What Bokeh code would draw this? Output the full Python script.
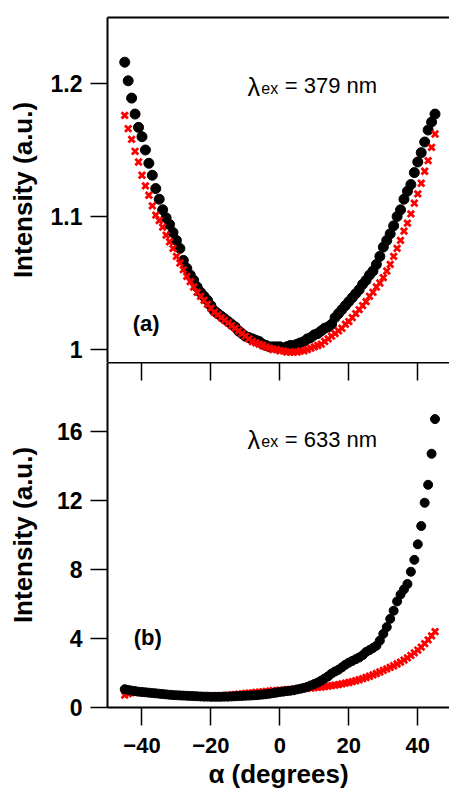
from bokeh.plotting import figure
from bokeh.models import Range1d, FixedTicker, LinearAxis, Label
from bokeh.layouts import column
from bokeh.embed import file_html
from bokeh.resources import INLINE

# ---------------- data ----------------
angles = [-45, -44, -43, -42, -41, -40, -39, -38, -37, -36,
          -35, -34, -33, -32, -31, -30, -29, -28, -27, -26,
          -25, -24, -23, -22, -21, -20, -19, -18, -17, -16,
          -15, -14, -13, -12, -11, -10, -9, -8, -7, -6,
          -5, -4, -3, -2, -1, 0, 1, 2, 3, 4,
          5, 6, 7, 8, 9, 10, 11, 12, 13, 14,
          15, 16, 17, 18, 19, 20, 21, 22, 23, 24,
          25, 26, 27, 28, 29, 30, 31, 32, 33, 34,
          35, 36, 37, 38, 39, 40, 41, 42, 43, 44, 45]

# lambda_ex = 379 nm (panel a)
i379_black = [1.216, 1.202, 1.189, 1.177, 1.167, 1.160, 1.150, 1.140, 1.131, 1.121,
              1.113, 1.105, 1.099, 1.094, 1.088, 1.082, 1.076, 1.067, 1.061, 1.056,
              1.052, 1.047, 1.043, 1.040, 1.037, 1.033, 1.029, 1.027, 1.025, 1.023,
              1.021, 1.019, 1.017, 1.014, 1.012, 1.010, 1.009, 1.008, 1.007, 1.006,
              1.004, 1.003, 1.002, 1.002, 1.002, 1.002, 1.001, 1.002, 1.003, 1.003,
              1.004, 1.005, 1.006, 1.008, 1.009, 1.011, 1.012, 1.014, 1.016, 1.017,
              1.019, 1.024, 1.027, 1.030, 1.033, 1.036, 1.039, 1.042, 1.045, 1.049,
              1.052, 1.056, 1.059, 1.064, 1.070, 1.077, 1.082, 1.087, 1.093, 1.100,
              1.105, 1.113, 1.119, 1.124, 1.133, 1.141, 1.148, 1.156, 1.165, 1.171, 1.177]
i379_red = [1.176, 1.166, 1.158, 1.149, 1.141, 1.131, 1.123, 1.116, 1.108, 1.101,
            1.097, 1.092, 1.086, 1.081, 1.076, 1.070, 1.065, 1.060, 1.055, 1.051,
            1.047, 1.043, 1.040, 1.037, 1.034, 1.031, 1.028, 1.026, 1.024, 1.022,
            1.020, 1.018, 1.016, 1.014, 1.012, 1.010, 1.008, 1.006, 1.005, 1.004,
            1.003, 1.002, 1.001, 1.000, 1.000, 0.999, 0.999, 0.998, 0.998, 0.998,
            0.998, 0.999, 0.999, 1.000, 1.001, 1.002, 1.003, 1.004, 1.006, 1.008,
            1.010, 1.012, 1.014, 1.016, 1.019, 1.021, 1.024, 1.027, 1.030, 1.033,
            1.036, 1.040, 1.043, 1.047, 1.050, 1.054, 1.059, 1.064, 1.070, 1.076,
            1.082, 1.089, 1.095, 1.102, 1.110, 1.117, 1.125, 1.134, 1.142, 1.152, 1.162]

# lambda_ex = 633 nm (panel b)
i633_black = [1.06, 1.02, 0.98, 0.95, 0.92, 0.90, 0.88, 0.86, 0.84, 0.82,
              0.80, 0.78, 0.76, 0.74, 0.72, 0.71, 0.70, 0.69, 0.68, 0.67,
              0.66, 0.65, 0.64, 0.63, 0.63, 0.62, 0.62, 0.62, 0.62, 0.63,
              0.63, 0.64, 0.65, 0.66, 0.67, 0.68, 0.69, 0.70, 0.71, 0.73,
              0.75, 0.77, 0.80, 0.83, 0.86, 0.90, 0.92, 0.95, 0.97, 1.00,
              1.05, 1.09, 1.14, 1.20, 1.28, 1.36, 1.45, 1.56, 1.68, 1.81,
              1.97, 2.09, 2.19, 2.33, 2.48, 2.60, 2.70, 2.80, 2.90, 3.03,
              3.22, 3.33, 3.45, 3.58, 3.88, 4.27, 4.66, 5.14, 5.61, 6.15,
              6.55, 6.85, 7.16, 7.87, 8.56, 9.46, 10.52, 11.87, 12.91, 14.71, 16.72]
i633_red = [0.72, 0.80, 0.86, 0.88, 0.88, 0.87, 0.86, 0.84, 0.82, 0.80,
            0.78, 0.77, 0.75, 0.74, 0.72, 0.71, 0.70, 0.69, 0.68, 0.67,
            0.66, 0.66, 0.65, 0.65, 0.65, 0.65, 0.66, 0.67, 0.68, 0.69,
            0.71, 0.73, 0.75, 0.77, 0.79, 0.81, 0.83, 0.85, 0.87, 0.89,
            0.91, 0.93, 0.95, 0.97, 0.98, 1.00, 1.01, 1.03, 1.04, 1.06,
            1.07, 1.09, 1.10, 1.12, 1.13, 1.15, 1.17, 1.19, 1.21, 1.24,
            1.27, 1.30, 1.33, 1.37, 1.41, 1.45, 1.50, 1.55, 1.61, 1.67,
            1.74, 1.81, 1.89, 1.97, 2.06, 2.15, 2.24, 2.33, 2.42, 2.52,
            2.63, 2.75, 2.88, 3.02, 3.17, 3.33, 3.50, 3.70, 3.92, 4.15, 4.40]

x_ticks = [-40, -20, 0, 20, 40]
y_ticks_a = [1, 1.1, 1.2]
y_labels_a = ["1", "1.1", "1.2"]
y_ticks_b = [0, 4, 8, 12, 16]

FONT = "Liberation Sans"
RED = "#ff0000"

x_range = Range1d(-50, 49.2)


def style_left(ax, ticks, labels, standoff):
    ax.ticker = FixedTicker(ticks=ticks)
    ax.major_label_overrides = {t: l for t, l in zip(ticks, labels)}
    ax.major_label_text_font = FONT
    ax.major_label_text_font_style = "bold"
    ax.major_label_text_font_size = "23px"
    ax.major_label_text_color = "black"
    ax.major_label_standoff = 8
    ax.major_tick_out = 17
    ax.major_tick_in = 0
    ax.major_tick_line_width = 1.5
    ax.major_tick_line_color = "black"
    ax.minor_tick_line_color = None
    ax.axis_line_width = 2
    ax.axis_line_color = "black"
    ax.axis_label = "Intensity (a.u.)"
    ax.axis_label_text_font = FONT
    ax.axis_label_text_font_style = "bold"
    ax.axis_label_text_font_size = "26px"
    ax.axis_label_text_color = "black"
    ax.axis_label_standoff = standoff


# ---------------- panel (a) ----------------
p1 = figure(width=449, height=362, x_range=x_range, y_range=Range1d(0.99023, 1.2496),
            output_backend="svg", toolbar_location=None, x_axis_location=None,
            min_border_left=107, min_border_right=0, min_border_top=17, min_border_bottom=0)
p1.grid.visible = False
p1.outline_line_color = None
p1.background_fill_color = "white"
p1.border_fill_color = "white"
style_left(p1.yaxis[0], y_ticks_a, y_labels_a, 10)

top_line = LinearAxis(ticker=FixedTicker(ticks=[]), major_label_text_font_size="0px",
                      major_tick_line_color=None, minor_tick_line_color=None,
                      axis_line_width=2, axis_line_color="black", major_label_standoff=0)
p1.add_layout(top_line, "above")

p1.scatter(angles, i379_black, marker="circle", size=10, fill_color="black", line_color="black")
p1.scatter(angles, i379_red, marker="x", size=9, line_color=RED, line_width=2.8)

p1.add_layout(Label(x=-9.4, y=1.1977, text="λ", text_font=FONT, text_font_size="25px",
                    text_color="black", text_baseline="alphabetic"))
p1.add_layout(Label(x=-5.4, y=1.1962, text="ex", text_font=FONT, text_font_size="16px",
                    text_color="black", text_baseline="alphabetic"))
p1.add_layout(Label(x=1.4, y=1.1985, text="= 379 nm", text_font=FONT, text_font_size="22px",
                    text_color="black", text_baseline="alphabetic"))
p1.add_layout(Label(x=-42.7, y=1.0195, text="(a)", text_font=FONT, text_font_size="22px",
                    text_font_style="bold", text_color="black", text_baseline="alphabetic"))

# ---------------- panel (b) ----------------
p2 = figure(width=449, height=429, x_range=x_range, y_range=Range1d(0, 20),
            output_backend="svg", toolbar_location=None,
            min_border_left=107, min_border_right=0, min_border_top=0, min_border_bottom=82)
p2.grid.visible = False
p2.outline_line_color = None
p2.background_fill_color = "white"
p2.border_fill_color = "white"
style_left(p2.yaxis[0], y_ticks_b, [str(t) for t in y_ticks_b], 16)

xa = p2.xaxis[0]
xa.ticker = FixedTicker(ticks=x_ticks)
xa.major_label_text_font = FONT
xa.major_label_text_font_style = "bold"
xa.major_label_text_font_size = "22px"
xa.major_label_text_color = "black"
xa.major_label_standoff = 12
xa.major_tick_out = 18
xa.major_tick_in = 0
xa.major_tick_line_width = 1.5
xa.major_tick_line_color = "black"
xa.minor_tick_line_color = None
xa.axis_line_width = 2
xa.axis_line_color = "black"
xa.axis_label = "α (degrees)"
xa.axis_label_text_font = FONT
xa.axis_label_text_font_style = "bold"
xa.axis_label_text_font_size = "26px"
xa.axis_label_text_color = "black"
xa.axis_label_standoff = 3

mid_line = LinearAxis(ticker=FixedTicker(ticks=x_ticks), major_label_text_font_size="0px",
                      major_label_overrides={t: "" for t in x_ticks},
                      major_tick_in=18, major_tick_out=0, major_tick_line_width=1.5,
                      major_tick_line_color="black", minor_tick_line_color=None,
                      axis_line_width=2, axis_line_color="black", major_label_standoff=0)
p2.add_layout(mid_line, "above")

p2.scatter(angles, i633_red, marker="x", size=9, line_color=RED, line_width=2.8)
p2.scatter(angles, i633_black, marker="circle", size=9, fill_color="black", line_color="black")

p2.add_layout(Label(x=-9.4, y=15.52, text="λ", text_font=FONT, text_font_size="25px",
                    text_color="black", text_baseline="alphabetic"))
p2.add_layout(Label(x=-5.4, y=15.44, text="ex", text_font=FONT, text_font_size="16px",
                    text_color="black", text_baseline="alphabetic"))
p2.add_layout(Label(x=1.4, y=15.52, text="= 633 nm", text_font=FONT, text_font_size="22px",
                    text_color="black", text_baseline="alphabetic"))
p2.add_layout(Label(x=-42.4, y=4.04, text="(b)", text_font=FONT, text_font_size="22px",
                    text_font_style="bold", text_color="black", text_baseline="alphabetic"))

layout = column(p1, p2, spacing=0)
open("out.html", "w").write(file_html(layout, INLINE))
